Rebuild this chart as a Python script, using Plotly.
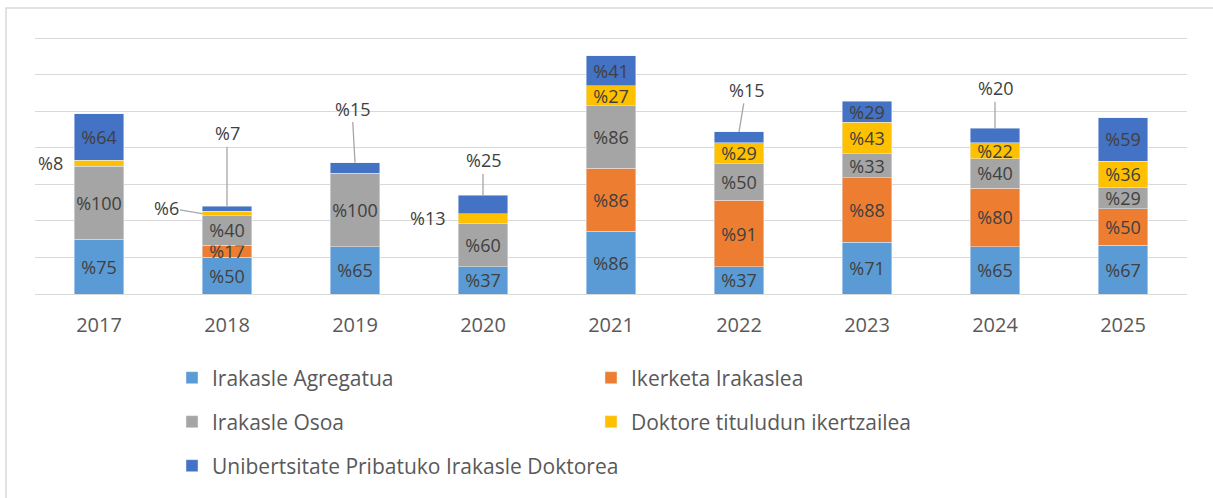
import plotly.graph_objects as go

years = ["2017", "2018", "2019", "2020", "2021", "2022", "2023", "2024", "2025"]
agregatua = [75, 50, 65, 37, 86, 37, 71, 65, 67]
ikerketa = [None, 17, None, None, 86, 91, 88, 80, 50]
osoa = [100, 40, 100, 60, 86, 50, 33, 40, 29]
doktore = [8, 6, None, 13, 27, 29, 43, 22, 36]
pribatu = [64, 7, 15, 25, 41, 15, 29, 20, 59]

series_names = ["Irakasle Agregatua", "Ikerketa Irakaslea", "Irakasle Osoa",
                "Doktore tituludun ikertzailea", "Unibertsitate Pribatuko Irakasle Doktorea"]
series_vals = [agregatua, ikerketa, osoa, doktore, pribatu]
colors = ["#5B9BD5", "#ED7D31", "#A5A5A5", "#FFC000", "#4472C4"]
legend_ids = ["legend", "legend", "legend2", "legend2", "legend3"]

# segments labelled outside the bar: (series index, year)
outside = {(3, "2017"), (3, "2018"), (4, "2018"), (4, "2019"), (3, "2020"),
           (4, "2020"), (4, "2022"), (4, "2024")}

fig = go.Figure()
for i, (name, vals, col, lg) in enumerate(zip(series_names, series_vals, colors, legend_ids)):
    texts = []
    for y, v in zip(years, vals):
        if v is None or (i, y) in outside:
            texts.append("")
        else:
            texts.append(f"%{v}")
    fig.add_trace(go.Bar(
        x=years, y=vals, name=name, marker_color=col, legend=lg,
        text=texts, textposition="inside", insidetextanchor="middle",
        textangle=0, constraintext="none", cliponaxis=False,
        textfont=dict(family="Open Sans", size=18, color="#404040"),
        hoverinfo="skip",
    ))

def base_of(idx, yi):
    return sum((series_vals[k][yi] or 0) for k in range(idx))

lab_font = dict(family="Open Sans", size=18, color="#404040")
annos = []
# labels with leader lines (ax, ay offsets of text from tip at segment top)
leader = [(4, "2018", 0, -73), (4, "2019", -3, -54), (4, "2020", 0, -35),
          (4, "2022", 7, -42), (4, "2024", 0, -40)]
for idx, y, ax, ay in leader:
    yi = years.index(y)
    v = series_vals[idx][yi]
    annos.append(dict(x=yi, y=base_of(idx, yi) + v, text=f"%{v}", showarrow=True,
                      arrowhead=0, arrowwidth=1.3, arrowcolor="#A6A6A6", ax=ax, ay=ay,
                      standoff=0, font=lab_font))
# %6 in 2018 with leader to bar left edge
yi = years.index("2018")
v = doktore[yi]
annos.append(dict(x=yi, y=base_of(3, yi) + v / 2, xshift=-25, text=f"%{v}", showarrow=True,
                  arrowhead=0, arrowwidth=1.3, arrowcolor="#A6A6A6", ax=-36, ay=-6, standoff=0,
                  font=lab_font))
# labels without leader lines
for y, xs in [("2017", -49), ("2020", -56)]:
    yi = years.index(y)
    v = doktore[yi]
    annos.append(dict(x=yi, y=base_of(3, yi) + v / 2, xshift=xs, text=f"%{v}", showarrow=False,
                      font=lab_font))

W, H = 1213, 498
L, R, T, B = 35, 26, 31, 204
pw, ph = W - L - R, H - T - B

def px_x(x):
    return (x - L) / pw

def px_y(y):
    return (H - B - y) / ph

leg_common = dict(orientation="h", xanchor="left", yanchor="middle", traceorder="normal",
                  font=dict(family="Open Sans", size=21, color="#595959"),
                  entrywidthmode="pixels", itemwidth=30,
                  bgcolor="rgba(0,0,0,0)")

fig.update_layout(
    width=W, height=H,
    margin=dict(l=L, r=R, t=T, b=B),
    barmode="stack", bargap=0.61,
    plot_bgcolor="white", paper_bgcolor="white",
    font=dict(family="Open Sans", color="#595959"),
    xaxis=dict(type="category", range=[-0.5, len(years) - 0.5], showline=False, ticks="",
               tickfont=dict(size=20, color="#595959"),
               ticklabelstandoff=17, showgrid=False),
    yaxis=dict(range=[0, 360], tickvals=[0, 50, 100, 150, 200, 250, 300, 350],
               showticklabels=False, showgrid=True,
               gridcolor="#D9D9D9", gridwidth=1.4, zeroline=True, zerolinecolor="#D9D9D9",
               zerolinewidth=1.4),
    legend=dict(x=px_x(172), y=px_y(378), entrywidth=374, **leg_common),
    legend2=dict(x=px_x(172), y=px_y(422), entrywidth=374, **leg_common),
    legend3=dict(x=px_x(172), y=px_y(466), entrywidth=700, **leg_common),
    annotations=annos,
    shapes=[dict(type="rect", xref="paper", yref="paper", x0=px_x(6), x1=px_x(1230),
                 y0=px_y(8), y1=px_y(520), line=dict(color="#D9D9D9", width=1.5),
                 fillcolor="rgba(0,0,0,0)", layer="below")],
    showlegend=True,
)

fig.write_html("out.html", config={"displayModeBar": False},
               post_script="document.body.style.margin='0';")
